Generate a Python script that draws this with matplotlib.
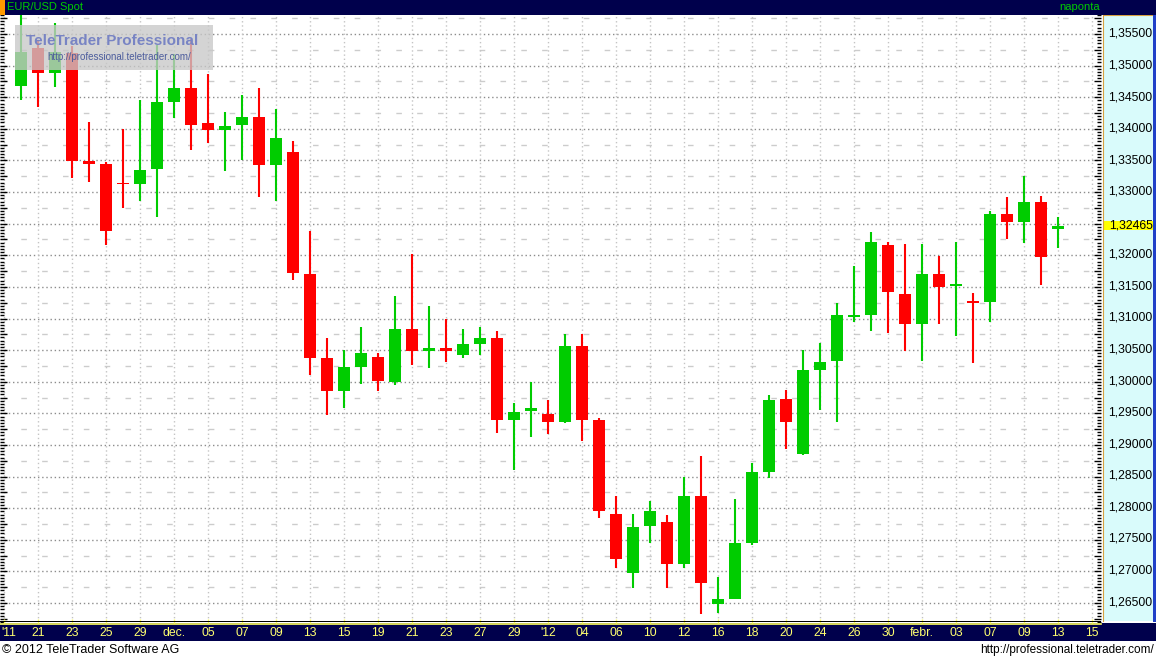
import matplotlib
matplotlib.use("Agg")
import matplotlib.pyplot as plt
import matplotlib.transforms as mtransforms
from matplotlib.patches import Rectangle
import numpy as np

# daily EUR/USD candles, 18 Nov 2011 .. 13 Feb 2012
opens = [1.3467, 1.3528, 1.3489, 1.3520, 1.3349, 1.3344, 1.3315, 1.3313, 1.3337, 1.3442,
         1.3464, 1.3409, 1.3398, 1.3406, 1.3418, 1.3343, 1.3363, 1.3171, 1.3037, 1.2986,
         1.3023, 1.3039, 1.3000, 1.3083, 1.3049, 1.3053, 1.3043, 1.3059, 1.3069, 1.2940,
         1.2953, 1.2949, 1.2936, 1.3056, 1.2939, 1.2791, 1.2698, 1.2772, 1.2778, 1.2712,
         1.2820, 1.2648, 1.2657, 1.2745, 1.2857, 1.2973, 1.2886, 1.3019, 1.3033, 1.3103,
         1.3105, 1.3217, 1.3139, 1.3092, 1.3171, 1.3151, 1.3127, 1.3126, 1.3265, 1.3252,
         1.3284, 1.3241]
highs = [1.3585, 1.3540, 1.3567, 1.3531, 1.3410, 1.3347, 1.3399, 1.3445, 1.3532, 1.3519,
         1.3542, 1.3487, 1.3426, 1.3453, 1.3464, 1.3432, 1.3381, 1.3239, 1.3069, 1.3050,
         1.3086, 1.3045, 1.3136, 1.3202, 1.3119, 1.3100, 1.3083, 1.3087, 1.3081, 1.2967,
         1.3000, 1.2971, 1.3075, 1.3075, 1.2943, 1.2819, 1.2791, 1.2811, 1.2789, 1.2850,
         1.2883, 1.2691, 1.2814, 1.2872, 1.2979, 1.2987, 1.3050, 1.3061, 1.3124, 1.3183,
         1.3237, 1.3221, 1.3218, 1.3218, 1.3199, 1.3221, 1.3141, 1.3270, 1.3292, 1.3325,
         1.3294, 1.3261]
lows = [1.3445, 1.3434, 1.3466, 1.3322, 1.3316, 1.3217, 1.3275, 1.3286, 1.3260, 1.3417,
        1.3366, 1.3377, 1.3333, 1.3351, 1.3292, 1.3286, 1.3161, 1.3011, 1.2948, 1.2959,
        1.2996, 1.2985, 1.2995, 1.3026, 1.3021, 1.3031, 1.3037, 1.3043, 1.2919, 1.2861,
        1.2912, 1.2918, 1.2934, 1.2906, 1.2784, 1.2706, 1.2674, 1.2745, 1.2674, 1.2705,
        1.2633, 1.2634, 1.2656, 1.2741, 1.2847, 1.2893, 1.2884, 1.2956, 1.2936, 1.3095,
        1.3081, 1.3077, 1.3048, 1.3032, 1.3092, 1.3072, 1.3029, 1.3095, 1.3225, 1.3219,
        1.3153, 1.3211]
closes = [1.3521, 1.3489, 1.3521, 1.3349, 1.3345, 1.3239, 1.3312, 1.3335, 1.3442, 1.3464,
          1.3406, 1.3398, 1.3404, 1.3418, 1.3343, 1.3385, 1.3172, 1.3038, 1.2986, 1.3023,
          1.3045, 1.3001, 1.3083, 1.3048, 1.3053, 1.3048, 1.3059, 1.3069, 1.2940, 1.2952,
          1.2959, 1.2937, 1.3056, 1.2939, 1.2795, 1.2720, 1.2770, 1.2795, 1.2712, 1.2820,
          1.2682, 1.2657, 1.2745, 1.2857, 1.2971, 1.2936, 1.3018, 1.3031, 1.3105, 1.3106,
          1.3221, 1.3142, 1.3092, 1.3171, 1.3150, 1.3155, 1.3124, 1.3265, 1.3252, 1.3284,
          1.3197, 1.32465]

tick_labels = ["'11", "21", "23", "25", "29", "dec.", "05", "07", "09", "13", "15", "19",
               "21", "23", "27", "29", "'12", "04", "06", "10", "12", "16", "18", "20",
               "24", "26", "30", "febr.", "03", "07", "09", "13", "15"]
tick_pos = list(range(-1, 64, 2))
price_levels = np.round(np.arange(1.265, 1.35501, 0.005), 4)
last_price = 1.32465

plt.rcParams['font.family'] = ['Liberation Sans', 'DejaVu Sans']

W, H = 1156, 659
fig = plt.figure(figsize=(W / 100, H / 100), dpi=100)
fig.patch.set_facecolor("white")

def box(x0, y0, x1, y1):
    return [x0 / W, 1 - y1 / H, (x1 - x0) / W, (y1 - y0) / H]

NAVY = "#00004c"
GREEN = "#00cc00"
RED = "#ff0000"
ylim = (1.2620, 1.3580)

###main chart
ax = fig.add_axes(box(0, 15, 1101, 622))
ax.set_xlim((0 - 21) / 17, (1101 - 21) / 17)
ax.set_ylim(*ylim)
for s in ax.spines.values():
    s.set_visible(False)

for v in price_levels:
    ax.axhline(v, color="#8c8c8c", linestyle=(0, (1, 2)), linewidth=1, zorder=0)
    ax.axhline(v + 0.0025, color="#cccccc", linestyle=(0, (4, 11)), linewidth=1, zorder=0)
for p in tick_pos:
    ax.axvline(p, color="#c4c4c4", linestyle=(0, (1, 2)), linewidth=1, zorder=0)

ax.set_xticks([])
ax.set_yticks(np.arange(1.2625, 1.358, 0.0025))
ax.set_yticks(np.arange(1.2620, 1.358, 0.0005), minor=True)
ax.tick_params(axis="y", which="both", direction="in", left=True, right=True,
               labelleft=False, color="black", width=1)
ax.tick_params(axis="y", which="major", length=5)
ax.tick_params(axis="y", which="minor", length=3)

x = np.arange(len(opens))
o = np.array(opens); c = np.array(closes)
colors = [GREEN if cc >= oo else RED for oo, cc in zip(o, c)]
bottoms = np.minimum(o, c)
heights = np.maximum(np.abs(c - o), 0.0003)
ax.vlines(x, lows, highs, colors=colors, linewidth=1.5, zorder=2)
ax.bar(x, heights, bottom=bottoms, width=0.76, color=colors, linewidth=0, zorder=3)

###right price scale
pan = fig.add_axes(box(1103, 15, 1153, 621))
pan.set_facecolor("#d9fbfb")
pan.set_ylim(*ylim)
pan.set_xlim(0, 1)
pan.set_xticks([]); pan.set_yticks([])
for k, s in pan.spines.items():
    s.set_visible(k in ("left", "top"))
    s.set_color("#d8a040")
trans = mtransforms.blended_transform_factory(pan.transAxes, pan.transData)
for v in price_levels:
    if abs(v - last_price) < 0.002:
        continue
    pan.text(0.99, v, f"{v:.5f}".replace(".", ","), transform=trans, ha="right",
             va="center", fontsize=8.8, color="black")
pan.add_patch(Rectangle((0.02, last_price - 0.00075), 0.98, 0.0015, transform=trans,
                        facecolor="#ffff00", edgecolor="none"))
pan.text(0.99, last_price, f"{last_price:.5f}".replace(".", ","), transform=trans,
         ha="right", va="center", fontsize=8.8, color="black")

# blue right border
fig.add_artist(Rectangle((1153 / W, 1 - 622 / H), 3 / W, 607 / H, transform=fig.transFigure,
                         facecolor="#2040c8", edgecolor="none"))

###header
hdr = fig.add_axes(box(0, 0, 1156, 15))
hdr.set_facecolor(NAVY)
hdr.set_xticks([]); hdr.set_yticks([])
for s in hdr.spines.values():
    s.set_visible(False)
hdr.add_patch(Rectangle((0, 0), 5 / W, 1, transform=hdr.transAxes, facecolor="#ff9900"))
hdr.text(7 / W, 0.5, "EUR/USD Spot", transform=hdr.transAxes, color=GREEN,
         fontsize=8, va="center", ha="left")
hdr.text(1100 / W, 0.5, "naponta", transform=hdr.transAxes, color=GREEN,
         fontsize=8, va="center", ha="right")

###bottom date bar
bar = fig.add_axes(box(0, 623, 1156, 641))
bar.set_facecolor(NAVY)
bar.set_xlim((0 - 21) / 17, (1156 - 21) / 17)
bar.set_ylim(0, 1)
bar.set_yticks([])
for k, s in bar.spines.items():
    s.set_visible(False)
bar.set_xticks(tick_pos)
bar.tick_params(axis="x", top=True, bottom=False, labelbottom=False, direction="out",
                length=3, color="#ffff60", width=1)
bar.plot([bar.get_xlim()[0], (1101 - 21) / 17], [0.97, 0.97], color="#ffff60",
         linewidth=1.2, clip_on=False)
for i, (p, lab) in enumerate(zip(tick_pos, tick_labels)):
    if i == 0:
        bar.text(bar.get_xlim()[0] + 0.1, 0.42, lab, color="#ffff70", fontsize=8.8,
                 ha="left", va="center")
    else:
        bar.text(p, 0.42, lab, color="#ffff70", fontsize=8.8, ha="center", va="center")
fig.add_artist(Rectangle((0, 1 - 622 / H), 1101 / W, 1.2 / H, transform=fig.transFigure,
                         facecolor="black", edgecolor="none"))

###watermark
fig.add_artist(Rectangle((15 / W, 1 - 70 / H), 198 / W, 45 / H, transform=fig.transFigure,
                         facecolor="#c8c8c8", edgecolor="none", alpha=0.78, zorder=10))
fig.text(26 / W, 1 - 41 / H, "TeleTrader Professional", fontsize=11, fontweight="bold",
         color="#7884c4", va="center", ha="left", zorder=11)
fig.text(47 / W, 1 - 57 / H, "http://professional.teletrader.com/", fontsize=7,
         color="#4c5c9c", va="center", ha="left", zorder=11)

###footer
fig.text(2 / W, 1 - 650 / H, "© 2012 TeleTrader Software AG", fontsize=9,
         va="center", ha="left", color="black")
fig.text(1154 / W, 1 - 650 / H, "http://professional.teletrader.com/", fontsize=8.5,
         va="center", ha="right", color="black")

plt.savefig("out.png", dpi=100)
